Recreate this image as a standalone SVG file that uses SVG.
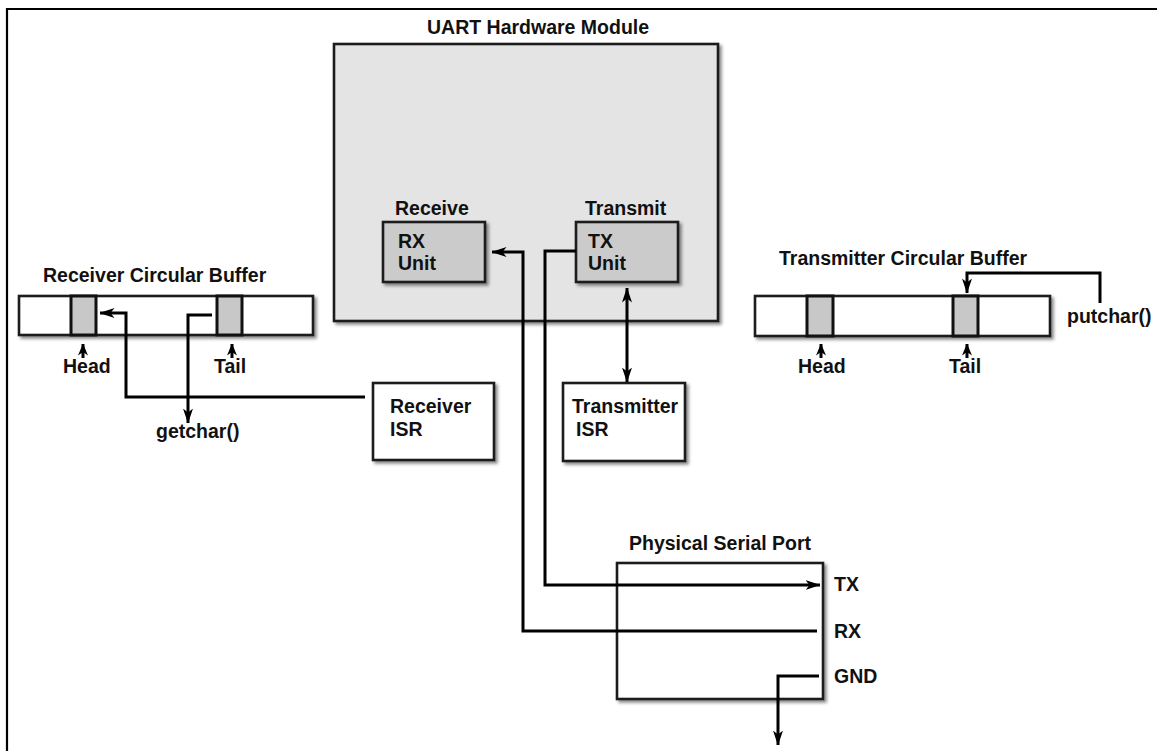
<svg xmlns="http://www.w3.org/2000/svg" width="1157" height="751" viewBox="0 0 1157 751">
<style>
text{font-family:"Liberation Sans",Arial,sans-serif;font-weight:bold;font-size:19.5px;fill:#111}
.box{stroke:#1a1a1a;stroke-width:2.6;filter:url(#sh)}
.cell{fill:#c8c8c8;stroke:#111;stroke-width:3}
.ln{fill:none;stroke:#000;stroke-width:3}
</style>
<defs>
<filter id="sh" x="-10%" y="-10%" width="125%" height="130%">
<feDropShadow dx="2.5" dy="2.5" stdDeviation="1.5" flood-color="#000" flood-opacity="0.45"/>
</filter>
<marker id="ah" viewBox="0 0 15 10" refX="14.5" refY="5" markerWidth="15" markerHeight="10" markerUnits="userSpaceOnUse" orient="auto-start-reverse">
<path d="M0,0 L15,5 L0,10 L4,5 z" fill="#000"/>
</marker>
<marker id="as" viewBox="0 0 12 10" refX="11.5" refY="5" markerWidth="12" markerHeight="10" markerUnits="userSpaceOnUse" orient="auto">
<path d="M0,0 L12,5 L0,10 L3.5,5 z" fill="#000"/>
</marker>
</defs>
<rect width="1157" height="751" fill="#fff"/>
<g id="frame">
<path d="M7,751 V9 H1157" fill="none" stroke="#000" stroke-width="2.2"/>
</g>
<g id="uart">
<text x="427" y="34">UART Hardware Module</text>
<rect class="box" x="334" y="44" width="384" height="277" fill="#e4e4e4"/>
</g>
<g id="rx-unit">
<text x="395" y="215">Receive</text>
<rect class="box" x="383" y="222" width="102" height="60" fill="#cbcbcb"/>
<text x="398" y="248">RX</text>
<text x="398" y="270">Unit</text>
</g>
<g id="tx-unit">
<text x="585" y="215">Transmit</text>
<rect class="box" x="576" y="222" width="102" height="60" fill="#cbcbcb"/>
<text x="588" y="248">TX</text>
<text x="588" y="270">Unit</text>
</g>
<g id="rx-buffer">
<text x="43" y="282">Receiver Circular Buffer</text>
<rect class="box" x="19" y="296" width="294" height="39" fill="#fff"/>
<rect class="cell" x="71" y="296" width="25" height="39"/>
<rect class="cell" x="217" y="296" width="25" height="39"/>
<text x="63" y="373">Head</text>
<text x="214" y="373">Tail</text>
</g>
<g id="tx-buffer">
<text x="779" y="265">Transmitter Circular Buffer</text>
<rect class="box" x="755" y="296" width="295" height="40" fill="#fff"/>
<rect class="cell" x="807" y="296" width="26" height="40"/>
<rect class="cell" x="953" y="296" width="25" height="40"/>
<text x="798" y="373">Head</text>
<text x="949" y="373">Tail</text>
<text x="1067" y="323">putchar()</text>
</g>
<g id="rx-isr">
<rect class="box" x="373" y="383" width="121" height="77" fill="#fff"/>
<text x="390" y="413">Receiver</text>
<text x="390" y="436">ISR</text>
</g>
<g id="tx-isr">
<rect class="box" x="563" y="383" width="122" height="78" fill="#fff"/>
<text x="572" y="413">Transmitter</text>
<text x="576" y="436">ISR</text>
</g>
<g id="getchar">
<text x="156" y="438">getchar()</text>
</g>
<g id="serial-port">
<text x="629" y="550">Physical Serial Port</text>
<rect class="box" x="617" y="563" width="206" height="136" fill="#fff"/>
<text x="834" y="591">TX</text>
<text x="834" y="638">RX</text>
<text x="834" y="683">GND</text>
</g>
<g id="connectors">
<path class="ln" d="M817,631 H523 V252 H492" marker-end="url(#ah)"/>
<path class="ln" d="M576,251 H545 V585 H820" marker-end="url(#ah)"/>
<path class="ln" d="M627,288 V382" marker-start="url(#ah)" marker-end="url(#ah)"/>
<path class="ln" d="M365,397 H126 V313 H100" marker-end="url(#ah)"/>
<path class="ln" d="M212,315 H188 V423" marker-end="url(#ah)"/>
<path class="ln" d="M1100,303 V273 H967 V293" marker-end="url(#ah)"/>
<path class="ln" d="M819,676 H778 V745" marker-end="url(#ah)"/>
<path class="ln" d="M83,358 V344" marker-end="url(#as)"/>
<path class="ln" d="M232,358 V344" marker-end="url(#as)"/>
<path class="ln" d="M821,358 V344" marker-end="url(#as)"/>
<path class="ln" d="M967,358 V344" marker-end="url(#as)"/>
</g>
</svg>
